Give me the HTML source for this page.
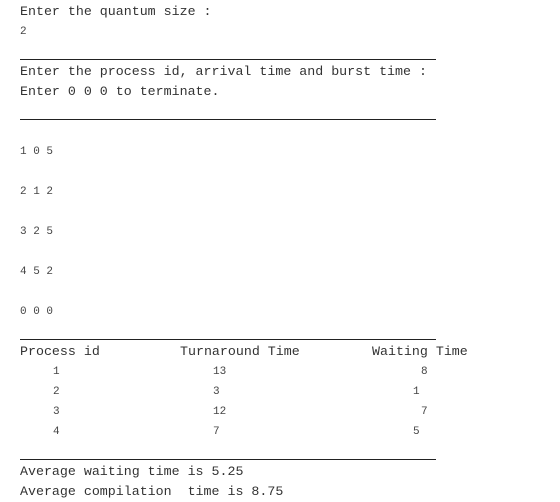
<!DOCTYPE html>
<html><head><meta charset="utf-8"><style>
body{margin:0;width:560px;height:502px;background:#fff;position:relative;overflow:hidden;font-family:"Liberation Mono",monospace;color:#333}
.t{position:absolute;font-size:13.3px;line-height:14px;white-space:pre}
.s{position:absolute;font-size:11px;line-height:12px;white-space:pre;color:#444}
.r{position:absolute;left:20px;width:416px;height:1px;background:#222}
</style></head><body>
<div class="t" style="left:20px;top:5px">Enter the quantum size :</div>
<div class="s" style="left:20px;top:26px">2</div>
<div class="r" style="top:59px"></div>
<div class="t" style="left:20px;top:65px">Enter the process id, arrival time and burst time :</div>
<div class="t" style="left:20px;top:85px">Enter 0 0 0 to terminate.</div>
<div class="r" style="top:119px"></div>
<div class="s" style="left:20px;top:146px">1 0 5</div>
<div class="s" style="left:20px;top:186px">2 1 2</div>
<div class="s" style="left:20px;top:226px">3 2 5</div>
<div class="s" style="left:20px;top:266px">4 5 2</div>
<div class="s" style="left:20px;top:306px">0 0 0</div>
<div class="r" style="top:339px"></div>
<div class="t" style="left:20px;top:345px">Process id</div>
<div class="t" style="left:180px;top:345px">Turnaround Time</div>
<div class="t" style="left:372px;top:345px">Waiting Time</div>
<div class="s" style="left:53px;top:366px">1</div>
<div class="s" style="left:213px;top:366px">13</div>
<div class="s" style="left:421px;top:366px">8</div>
<div class="s" style="left:53px;top:386px">2</div>
<div class="s" style="left:213px;top:386px">3</div>
<div class="s" style="left:413px;top:386px">1</div>
<div class="s" style="left:53px;top:406px">3</div>
<div class="s" style="left:213px;top:406px">12</div>
<div class="s" style="left:421px;top:406px">7</div>
<div class="s" style="left:53px;top:426px">4</div>
<div class="s" style="left:213px;top:426px">7</div>
<div class="s" style="left:413px;top:426px">5</div>
<div class="r" style="top:459px"></div>
<div class="t" style="left:20px;top:465px">Average waiting time is 5.25</div>
<div class="t" style="left:20px;top:485px">Average compilation  time is 8.75</div>
</body></html>
